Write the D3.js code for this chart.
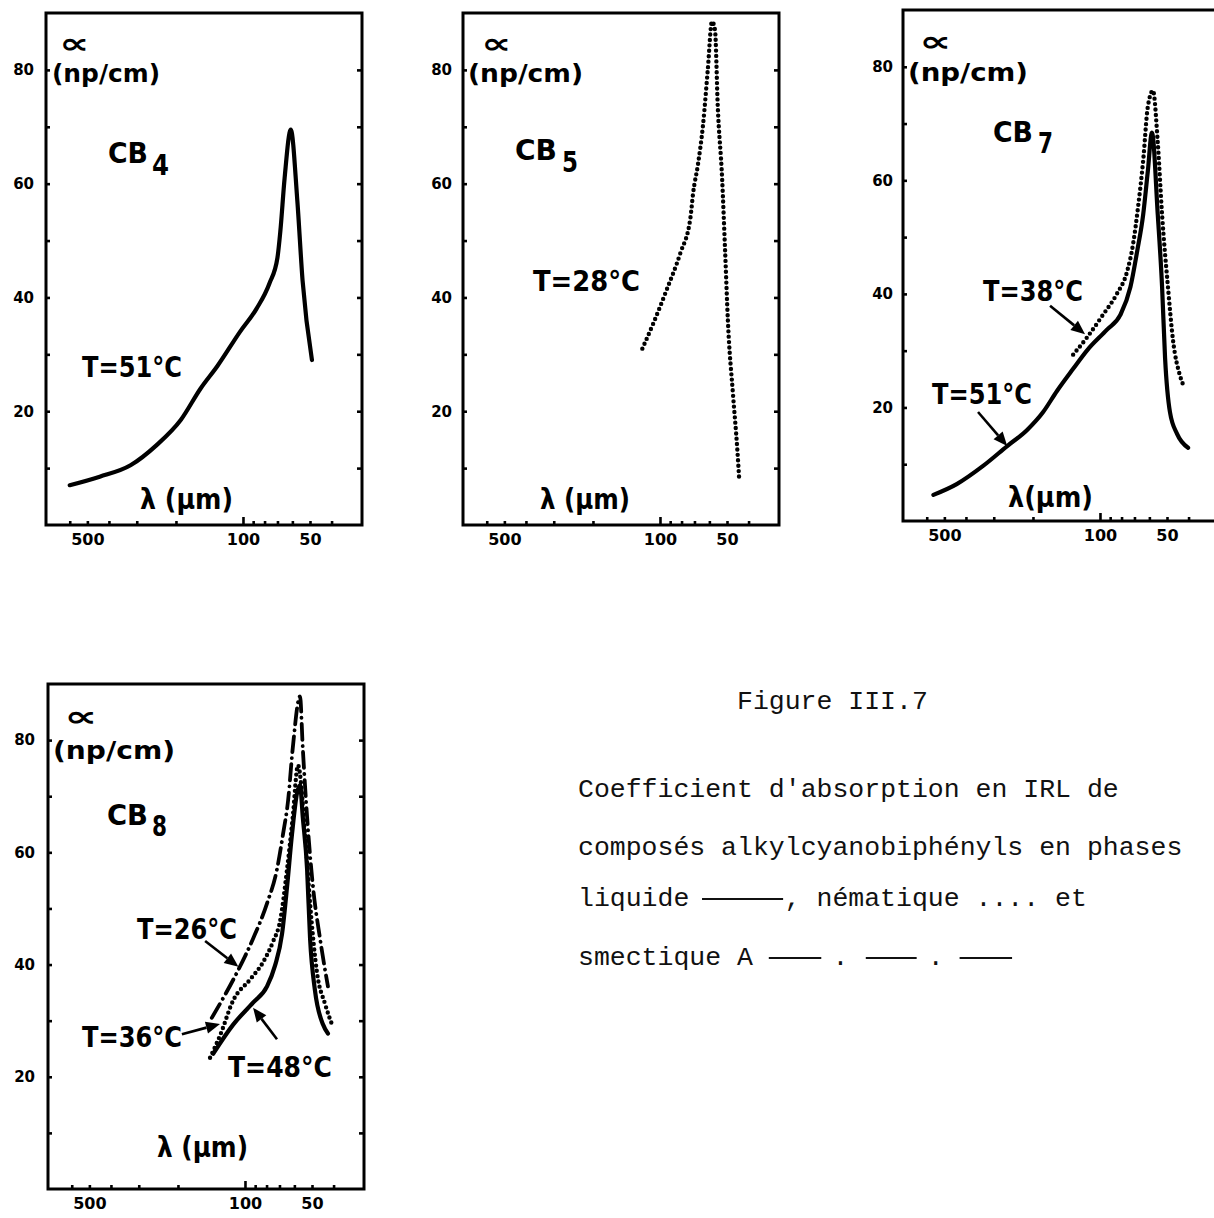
<!DOCTYPE html>
<html>
<head>
<meta charset="utf-8">
<script src="https://cdn.jsdelivr.net/npm/d3@7"></script>
<style>
  body { margin: 0; background: #fff; }
  svg { display: block; }
</style>
</head>
<body>
<svg id="fig" width="1214" height="1218"></svg>
<script>
// Far-infrared absorption coefficient α (np/cm) against wavelength λ (µm)
// for four alkylcyanobiphenyls. Each series: [λ in µm, α in np/cm].

const cb4Liquid51 = [[600,7],[440,8.5],[320,10.5],[245,14],[190,18.5],[155,24],[130,28],
  [103,34],[87,38],[76,42.5],[70,47],[68,51.5],[65,61],[61,69.5],[57,57],[54,43],[49,29]];

const cb5Nematic28 = [[120,31],[107,35.5],[93,41.5],[81,47.8],[73,54],[71,58.3],[67.5,63.4],
  [64,70.5],[61,80],[58.4,88.5],[56.6,87],[55,73.5],[52.6,61],[51,48.3],[49.5,35.6],[47,23],
  [45,13.6],[44,7.6]];

const cb7Liquid51 = [[560,4.6],[440,6.5],[335,9.7],[261,13.2],[213,16],[180,19.2],[156,22.9],
  [132,26.8],[114,30.1],[93,33.7],[81,36.3],[73,41.2],[68,47.6],[64,53.9],[61,61.5],[58.4,68.4],
  [55,53.9],[52.6,41.2],[51,28.7],[48.5,19.2],[45,15.3],[40.2,12.9]];

const cb7Nematic38 = [[132,29.3],[114,32.4],[97,36.3],[84,40],[75.6,43.9],[71,48.8],[67.5,55.2],
  [64,63.4],[61,72.9],[57.8,75.8],[55,66.6],[52.6,53.9],[49.5,41.2],[47,31.9],[43.7,25.6],[42.4,24.1]];

const cb8Smectic26 = [[141,30.5],[107,39.1],[92,44.6],[79.6,50.9],[71.8,57],[67.5,63.2],[64,69.3],
  [61,78.6],[56.6,87.8],[55,78.6],[52.6,66.3],[49.5,53.9],[46,44.6],[42.4,36.1]];

const cb8Nematic36 = [[143.5,23.4],[129,27.5],[113,33.6],[95,37.3],[83,40.4],[74.8,44.1],[69.6,47.7],
  [64.7,57],[61,66.3],[57.8,75.5],[53.7,63.2],[51,50.9],[47.5,38.6],[43.7,33],[40.2,28.8]];

const cb8Liquid48 = [[139,24.1],[113,29.3],[92,33.2],[79.6,36.1],[73.3,39.8],[68.2,45.4],[64.7,53.9],
  [61.5,63.2],[58.4,70.5],[56.6,72],[55,66.3],[52.6,57],[51,44.6],[48.5,35.4],[44.6,29.3],[42.4,27.7]];

// Axis ticks
const yTickValues = [10, 20, 30, 40, 50, 60, 70, 80];
const yTickLabels = [20, 40, 60, 80];
const xTickValues = [600, 500, 400, 300, 200, 100, 90, 80, 70, 60, 50, 40];
const xTickLabels = [500, 100, 50];
const lambdaDomain = [767, 29.2];
const alphaDomain = [0, 90];

// Temperature call-outs: arrow tail and head in data units [λ, α]
const cb7Arrows = [
  { from: [167.6, 37.9], to: [116.7, 32.9] },   // T=38°C
  { from: [353, 19.2],   to: [261, 13.2] }      // T=51°C
];
const cb8Arrows = [
  { from: [151, 44.2], to: [107, 39.6] },       // T=26°C
  { from: [192, 27.6], to: [129.5, 29.4] },     // T=36°C
  { from: [71.8, 26.7], to: [92, 32.3] }        // T=48°C
];

// Line styles of the three phases
const phaseStyle = {
  liquide:   { width: 4.2, dash: null,          cap: "round" },
  nematique: { width: 4.4, dash: "0 5.4",       cap: "round" },
  smectique: { width: 3.8, dash: "16 6 0.1 6",  cap: "round" }
};

const PANEL_W = 316;
const BOLD = "'DejaVu Sans', sans-serif";

const panels = [
  {
    left: 46, top: 13, bottom: 525, yLabelEnd: 34,
    series: [{ data: cb4Liquid51, phase: "liquide" }],
    arrows: [],
    texts: [
      { t: "∝",       x: 59,  y: 53,  size: 28, len: 30 },
      { t: "(np/cm)", x: 52,  y: 82,  size: 24, len: 108 },
      { t: "CB",      x: 108, y: 163, size: 29, len: 40 },
      { t: "4",       x: 152, y: 175, size: 28, len: 17 },
      { t: "T=51°C",  x: 82,  y: 377, size: 28, len: 100 },
      { t: "λ (µm)",  x: 140, y: 509, size: 28, len: 93 }
    ]
  },
  {
    left: 463, top: 13, bottom: 525, yLabelEnd: 452,
    series: [{ data: cb5Nematic28, phase: "nematique" }],
    arrows: [],
    texts: [
      { t: "∝",       x: 481, y: 53,  size: 28, len: 30 },
      { t: "(np/cm)", x: 468, y: 82,  size: 24, len: 115 },
      { t: "CB",      x: 515, y: 160, size: 29, len: 42 },
      { t: "5",       x: 562, y: 172, size: 28, len: 16 },
      { t: "T=28°C",  x: 533, y: 291, size: 28, len: 107 },
      { t: "λ (µm)",  x: 540, y: 509, size: 28, len: 90 }
    ]
  },
  {
    left: 903, top: 10, bottom: 521, yLabelEnd: 893,
    series: [{ data: cb7Liquid51, phase: "liquide" }, { data: cb7Nematic38, phase: "nematique" }],
    arrows: cb7Arrows,
    texts: [
      { t: "∝",       x: 919,  y: 51,  size: 28, len: 32 },
      { t: "(np/cm)", x: 908,  y: 81,  size: 24, len: 120 },
      { t: "CB",      x: 993,  y: 142, size: 29, len: 40 },
      { t: "7",       x: 1038, y: 153, size: 28, len: 15 },
      { t: "T=38°C",  x: 983,  y: 301, size: 28, len: 100 },
      { t: "T=51°C",  x: 932,  y: 404, size: 28, len: 100 },
      { t: "λ(µm)",   x: 1008, y: 507, size: 28, len: 85 }
    ]
  },
  {
    left: 48, top: 684, bottom: 1189, yLabelEnd: 35,
    series: [
      { data: cb8Smectic26, phase: "smectique" },
      { data: cb8Nematic36, phase: "nematique" },
      { data: cb8Liquid48, phase: "liquide" }
    ],
    arrows: cb8Arrows,
    texts: [
      { t: "∝",       x: 64,  y: 726,  size: 28, len: 33 },
      { t: "(np/cm)", x: 53,  y: 759,  size: 25, len: 122 },
      { t: "CB",      x: 107, y: 825,  size: 29, len: 41 },
      { t: "8",       x: 152, y: 836,  size: 28, len: 15 },
      { t: "T=26°C",  x: 137, y: 939,  size: 28, len: 100 },
      { t: "T=36°C",  x: 82,  y: 1047, size: 28, len: 100 },
      { t: "T=48°C",  x: 228, y: 1077, size: 28, len: 104 },
      { t: "λ (µm)",  x: 157, y: 1157, size: 28, len: 91 }
    ]
  }
];

const svg = d3.select("#fig");

panels.forEach(p => {
  const right = p.left + PANEL_W;
  const x = d3.scaleLog().domain(lambdaDomain).range([p.left, right]);
  const y = d3.scaleLinear().domain(alphaDomain).range([p.bottom, p.top]);
  const g = svg.append("g");

  // bottom axis: inward ticks, labels for 500 / 100 / 50
  const xAxis = d3.axisBottom(x)
    .tickValues(xTickValues)
    .tickSize(-4)
    .tickPadding(9)
    .tickFormat(d => xTickLabels.includes(d) ? String(d) : "");
  const gx = g.append("g").attr("transform", `translate(0,${p.bottom})`).call(xAxis);
  gx.selectAll(".tick line").attr("y2", d => d === 100 ? -8 : -4);

  // left axis with labels, right axis ticks only
  const yAxisL = d3.axisLeft(y)
    .tickValues(yTickValues)
    .tickSize(-4)
    .tickPadding(p.left - p.yLabelEnd)
    .tickFormat(d => yTickLabels.includes(d) ? String(d) : "");
  const gyl = g.append("g").attr("transform", `translate(${p.left},0)`).call(yAxisL);
  const yAxisR = d3.axisRight(y).tickValues(yTickValues).tickSize(-5).tickFormat("");
  const gyr = g.append("g").attr("transform", `translate(${right},0)`).call(yAxisR);

  [gx, gyl, gyr].forEach(a => {
    a.select(".domain").remove();
    a.selectAll(".tick line").attr("stroke", "#000").attr("stroke-width", 2.6);
    a.selectAll(".tick text")
      .attr("font-family", BOLD).attr("font-weight", "bold")
      .attr("font-size", 16).attr("fill", "#000");
  });
  gyl.selectAll(".tick text").attr("font-size", 15);

  // frame
  g.append("rect")
    .attr("x", p.left).attr("y", p.top)
    .attr("width", PANEL_W).attr("height", p.bottom - p.top)
    .attr("fill", "none").attr("stroke", "#000").attr("stroke-width", 3);

  // curves
  const line = d3.line()
    .x(d => x(d[0])).y(d => y(d[1]))
    .curve(d3.curveMonotoneX);
  p.series.forEach(s => {
    const st = phaseStyle[s.phase];
    g.append("path")
      .datum(s.data)
      .attr("d", line)
      .attr("fill", "none")
      .attr("stroke", "#000")
      .attr("stroke-width", st.width)
      .attr("stroke-linecap", st.cap)
      .attr("stroke-linejoin", "round")
      .attr("stroke-dasharray", st.dash);
  });

  // arrows
  p.arrows.forEach(a => {
    const x1 = x(a.from[0]), y1 = y(a.from[1]);
    const x2 = x(a.to[0]),   y2 = y(a.to[1]);
    const ang = Math.atan2(y2 - y1, x2 - x1);
    const headL = 14, headW = 6;
    const bx = x2 - headL * Math.cos(ang), by = y2 - headL * Math.sin(ang);
    g.append("line")
      .attr("x1", x1).attr("y1", y1).attr("x2", bx).attr("y2", by)
      .attr("stroke", "#000").attr("stroke-width", 2.6);
    const nx = -Math.sin(ang) * headW, ny = Math.cos(ang) * headW;
    g.append("path")
      .attr("d", `M${x2},${y2}L${bx + nx},${by + ny}L${bx - nx},${by - ny}Z`)
      .attr("fill", "#000");
  });

  // labels
  p.texts.forEach(t => {
    g.append("text")
      .attr("x", t.x).attr("y", t.y)
      .attr("font-family", BOLD).attr("font-weight", "bold")
      .attr("font-size", t.size)
      .attr("textLength", t.len).attr("lengthAdjust", "spacingAndGlyphs")
      .attr("fill", "#000")
      .text(t.t);
  });
});

// caption, typewritten
const MONO = "'Liberation Mono', monospace";
const CW = 15.9;           // character cell width at 26.5px
const capX = 578;
const cap = svg.append("g")
  .attr("font-family", MONO).attr("font-size", 26.5).attr("fill", "#111");

cap.append("text").attr("x", capX + 10 * CW).attr("y", 709).text("Figure III.7");
cap.append("text").attr("x", capX).attr("y", 797).text("Coefficient d'absorption en IRL de");
cap.append("text").attr("x", capX).attr("y", 855).text("composés alkylcyanobiphényls en phases");

const row3 = 906, row4 = 965;
cap.append("text").attr("x", capX).attr("y", row3).text("liquide");
cap.append("line")
  .attr("x1", capX + 7.8 * CW).attr("x2", capX + 12.9 * CW)
  .attr("y1", row3 - 7).attr("y2", row3 - 7)
  .attr("stroke", "#111").attr("stroke-width", 2);
cap.append("text").attr("x", capX + 13 * CW).attr("y", row3).text(", nématique .... et");

cap.append("text").attr("x", capX).attr("y", row4).text("smectique A");
[[12, 15.3], [18.1, 21.3], [24, 27.3]].forEach(([a, b]) => {
  cap.append("line")
    .attr("x1", capX + a * CW).attr("x2", capX + b * CW)
    .attr("y1", row4 - 7).attr("y2", row4 - 7)
    .attr("stroke", "#111").attr("stroke-width", 2);
});
cap.append("text").attr("x", capX + 16 * CW).attr("y", row4).text(".");
cap.append("text").attr("x", capX + 22 * CW).attr("y", row4).text(".");
</script>
</body>
</html>
